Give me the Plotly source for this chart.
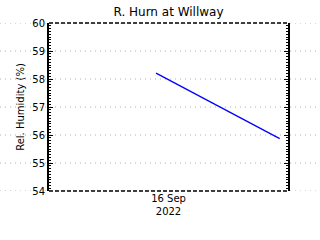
import plotly.graph_objects as go

# Data
times = ["2022-09-15 22:45", "2022-09-16 05:00", "2022-09-16 11:10"]
humidity = [58.21, 57.03, 55.87]
y_ticks = [54, 55, 56, 57, 58, 59, 60]
x_tick_vals = ["2022-09-16 00:00"]
x_tick_text = ["16 Sep<br>2022"]
x_range = ["2022-09-15 12:00", "2022-09-16 12:00"]
y_range = [54, 60]
title = "R. Hurn at Willway"
y_title = "Rel. Humidity (%)"

W, H = 320, 240
ml, mr, mt, mb = 49, 32, 23, 49
pw = W - ml - mr

fig = go.Figure()
fig.add_trace(go.Scatter(x=times, y=humidity, mode="lines",
                         line=dict(color="#0000ff", width=1.3),
                         showlegend=False, hoverinfo="skip"))

shapes = []
for v in y_ticks:
    shapes.append(dict(type="line", xref="paper", yref="y",
                       x0=-ml / pw, x1=1 + mr / pw, y0=v, y1=v,
                       line=dict(color="#b0b0b0", width=1, dash="1px,4px"),
                       layer="below"))
for yy in (0, 1):
    shapes.append(dict(type="line", xref="paper", yref="paper",
                       x0=0, x1=1, y0=yy, y1=yy,
                       line=dict(color="black", width=1.5, dash="4px,2px"),
                       layer="above"))

font = "DejaVu Sans, Liberation Sans, sans-serif"
fig.update_layout(
    width=W, height=H,
    margin=dict(l=ml, r=mr, t=mt, b=mb, pad=0),
    paper_bgcolor="white", plot_bgcolor="white",
    title=dict(text=title, x=(ml + pw / 2) / W, xanchor="center",
               y=1 - 12 / H, yanchor="middle",
               font=dict(family=font, size=12, color="black")),
    shapes=shapes,
    xaxis=dict(range=x_range, tickvals=x_tick_vals, ticktext=x_tick_text,
               showgrid=False, showline=False, zeroline=False, ticks="",
               tickfont=dict(family=font, size=10, color="black")),
    yaxis=dict(range=y_range, tickvals=y_ticks, showgrid=False, zeroline=False,
               showline=True, linecolor="black", linewidth=2, mirror="allticks",
               ticks="inside", ticklen=4, tickcolor="black", tickwidth=1,
               minor=dict(dtick=0.1, ticks="inside", ticklen=2,
                          tickcolor="black", tickwidth=1),
               tickfont=dict(family=font, size=10, color="black"),
               title=dict(text=y_title, standoff=6,
                          font=dict(family=font, size=10, color="black"))),
)
fig.write_html("out.html")
